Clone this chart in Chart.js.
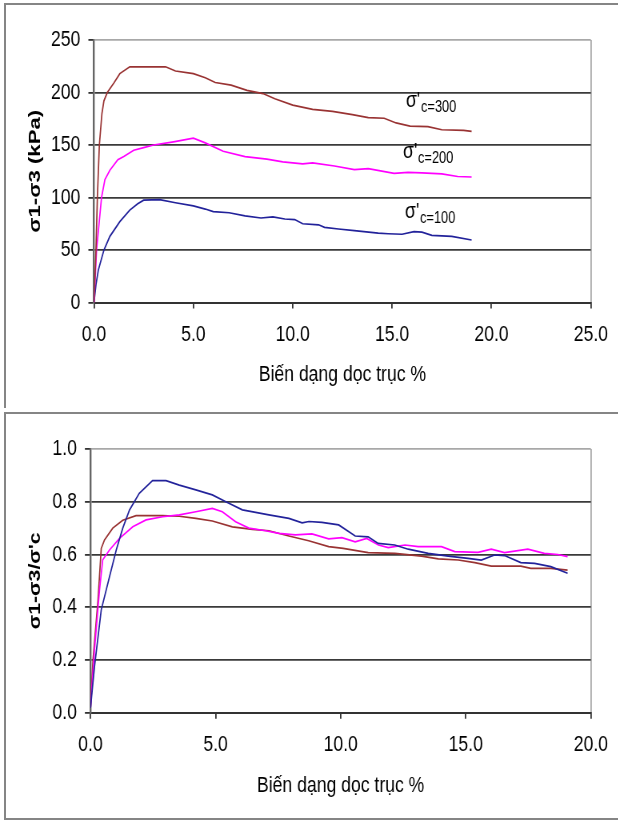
<!DOCTYPE html>
<html><head><meta charset="utf-8">
<script src="https://cdn.jsdelivr.net/npm/chart.js@4.4.0/dist/chart.umd.min.js"></script>
<style>
html,body{margin:0;padding:0;background:#fff;}
body{width:618px;height:821px;position:relative;overflow:hidden;}
.frame{position:absolute;border:2px solid #858585;box-sizing:border-box;}
#f1{left:4px;top:3px;width:700px;height:405px;border-bottom:none;}
#f2{left:4px;top:412px;width:700px;height:408px;}
.wrap{position:absolute;left:0;transform:scaleX(0.8);transform-origin:0 0;}
#w1{top:0;}
#w2{top:410px;}
canvas{display:block;}
</style></head>
<body>
<div class="frame" id="f1"></div>
<div class="frame" id="f2"></div>
<div class="wrap" id="w1"><canvas id="c1" width="773" height="408"></canvas></div>
<div class="wrap" id="w2"><canvas id="c2" width="773" height="411"></canvas></div>
<script>
// ---------- Top chart: deviator stress (kPa) vs axial strain (%) ----------
const topStrain300 = [0,0.1,0.17,0.27,0.4,0.5,0.67,1.0,1.3,1.8,2.5,3.6,4.1,5.0,5.6,6.1,6.9,7.7,8.5,9.1,10.0,11.0,12.0,13.0,13.8,14.6,15.2,15.9,16.8,17.5,18.6,19.0];
const topStress300 = [0,50,100,150,180,192,200,209,218,224.5,224.5,224.5,220.5,218,214,209.5,207,202,199,194,188,184,182,179,176,175.5,171,168,167.5,164.5,164,163];
const topStrain200 = [0,0.13,0.38,0.55,0.8,1.2,1.5,2.0,2.5,3.0,4.0,5.0,5.6,6.5,7.6,8.7,9.5,10.5,11.0,12.1,13.1,13.8,15.1,15.8,16.5,17.5,18.3,19.0];
const topStress200 = [0,50,100,117,126,136,139,145,147.5,150,153,156.5,152,144,139,136.5,134,132,133,130,126.5,127.5,123,124,123.5,122.5,120,119.5];
const topStrain100 = [0,0.1,0.22,0.5,0.8,1.3,1.8,2.2,2.5,3.3,4.1,5.0,5.6,6.0,6.8,7.6,8.4,9.0,9.6,10.1,10.5,11.3,11.6,12.3,13.1,14.3,14.8,15.5,16.1,16.5,17.0,18.0,19.0];
const topStress100 = [0,17,31,50,63,77,88,94,97.5,98,95,92,89,86.5,85.5,82.5,80.5,81.5,79.5,79,75,74,71.5,70,68.5,66,65.5,65,67.5,67,64,63,59.5];
const topXTicks = [0,5,10,15,20,25];
const topYTicks = [0,50,100,150,200,250];
// curve annotations (data units)
const topLabelText = ["300","200","100"];
const topLabelX = [15.7,15.55,15.65];
const topLabelY = [186.2,137.6,80.5];

// ---------- Bottom chart: normalised stress vs axial strain (%) ----------
const botStrain100 = [0,0.16,0.43,0.76,1.03,1.29,1.56,1.95,2.48,3.02,3.55,4.21,4.87,5.41,6.07,6.6,7.13,7.93,8.46,8.73,9.25,9.92,10.58,11.1,11.5,12.16,12.7,13.5,14.3,15.09,15.62,16.15,16.55,17.2,17.75,18.4,19.07];
const botRatio100  = [0.018,0.175,0.39,0.516,0.617,0.70,0.769,0.832,0.88,0.88,0.863,0.845,0.826,0.80,0.769,0.76,0.75,0.737,0.72,0.725,0.722,0.712,0.67,0.667,0.642,0.636,0.62,0.604,0.594,0.585,0.579,0.598,0.596,0.569,0.566,0.554,0.529];
const botStrain300 = [0,0.1,0.3,0.43,0.56,0.89,1.29,1.82,2.88,3.55,4.21,4.87,5.67,6.47,7.13,7.93,8.72,9.52,10.1,11.1,12.17,13.23,13.9,14.7,15.36,16.02,17.2,17.6,18.4,19.07];
const botRatio300  = [0.018,0.2,0.427,0.623,0.655,0.70,0.73,0.747,0.747,0.745,0.737,0.727,0.705,0.695,0.69,0.67,0.652,0.63,0.623,0.607,0.604,0.594,0.583,0.579,0.569,0.556,0.556,0.547,0.547,0.541];
const botStrain200 = [0,0.16,0.36,0.49,0.76,1.16,1.69,2.22,2.88,3.55,4.21,4.87,5.27,5.8,6.33,7.0,7.53,8.19,8.85,9.52,10.05,10.58,11.04,11.51,11.9,12.57,13.1,14.03,14.56,15.49,16.02,16.55,17.48,18.14,18.68,19.07];
const botRatio200  = [0.018,0.238,0.465,0.58,0.617,0.661,0.705,0.731,0.743,0.75,0.762,0.775,0.762,0.724,0.70,0.69,0.68,0.674,0.678,0.659,0.664,0.648,0.661,0.636,0.626,0.636,0.63,0.63,0.611,0.608,0.62,0.607,0.62,0.604,0.60,0.592];
const botXTicks = [0,5,10,15,20];
const botYTicks = [0,0.2,0.4,0.6,0.8,1.0];

const xTitle = "Biến dạng dọc trục %";
const yTitleTop = "σ1-σ3 (kPa)";
const yTitleBot = "σ1-σ3/σ'c";

const BROWN = '#993333', MAGENTA = '#ff00ff', BLUE = '#22229a';
const FONT = "'Liberation Sans',Arial,sans-serif";
const K = 0.8;          // horizontal compression applied to the canvas (CSS)
const CW = 773;         // internal canvas width

function pts(xs, ys){ return xs.map((x,i)=>({x:x, y:ys[i]})); }
function ds(xs, ys, color){
  return {data: pts(xs, ys), borderColor: color, borderWidth: 1.7, pointRadius: 0, showLine: true, tension: 0, fill: false};
}

const titlesPlugin = {
  id: 'titles',
  afterDraw(chart, args, o){
    const ctx = chart.ctx, a = chart.chartArea;
    ctx.save();
    ctx.fillStyle = '#000';
    ctx.font = o.xFont; ctx.textAlign = 'center'; ctx.textBaseline = 'alphabetic';
    ctx.fillText(o.xText, (a.left + a.right)/2, o.xBase);
    ctx.translate(o.yX / K, (a.top + a.bottom)/2);
    ctx.rotate(-Math.PI/2);
    ctx.font = o.yFont;
    const w = ctx.measureText(o.yText).width;
    ctx.scale(o.yLen / w, 1);
    ctx.textAlign = 'center'; ctx.textBaseline = 'middle';
    ctx.fillText(o.yText, 0, 0);
    ctx.restore();
    if (o.labels) {
      const xs = chart.scales.x, ys = chart.scales.y;
      ctx.save();
      ctx.fillStyle = '#000'; ctx.textAlign = 'left'; ctx.textBaseline = 'alphabetic';
      o.labels.text.forEach((t,i)=>{
        const px = xs.getPixelForValue(o.labels.x[i]);
        const py = ys.getPixelForValue(o.labels.y[i]);
        ctx.font = "22px " + FONT;
        ctx.fillText("σ'", px, py);
        const w1 = ctx.measureText("σ'").width;
        ctx.font = "16px " + FONT;
        ctx.fillText("c=" + t, px + w1 + 1, py + 5);
      });
      ctx.restore();
    }
  }
};

function makeChart(id, datasets, xmax, ymax, xticks, yticks, area, canvasH, titleOpts, decimals){
  const tickFont = {family: FONT, size: 22};
  return new Chart(document.getElementById(id), {
    type: 'scatter',
    data: {datasets: datasets},
    options: {
      responsive: false, animation: false, devicePixelRatio: 1,
      layout: {padding: {left: 0, top: area.top, right: CW - area.right / K, bottom: 0}},
      plugins: {legend: {display: false}, tooltip: {enabled: false}, titles: titleOpts},
      scales: {
        x: {
          type: 'linear', min: 0, max: xmax,
          afterBuildTicks: s => { s.ticks = xticks.map(v=>({value:v})); },
          ticks: {callback: v => Number(v).toFixed(1), font: tickFont, color: '#000', padding: 13, maxRotation: 0, autoSkip: false},
          grid: {drawOnChartArea: true, color: c => (c.tick && c.tick.value === xmax) ? '#a8a8a8' : 'rgba(0,0,0,0)', tickColor: '#333', tickLength: 6, lineWidth: 1.8},
          border: {color: '#333', width: 2},
          afterFit: s => { s.height = canvasH - area.bottom; }
        },
        y: {
          min: 0, max: ymax,
          afterBuildTicks: s => { s.ticks = yticks.map(v=>({value:v})); },
          ticks: {callback: v => decimals ? Number(v).toFixed(decimals) : String(v), font: tickFont, color: '#000', padding: 10, autoSkip: false},
          grid: {color: c => (c.tick && c.tick.value === ymax) ? '#a8a8a8' : '#3a3a3a', tickColor: '#333', tickLength: 7, lineWidth: 1.8},
          border: {color: '#666', width: 2.4},
          afterFit: s => { s.width = area.left / K; }
        }
      }
    },
    plugins: [titlesPlugin]
  });
}

makeChart('c1',
  [ds(topStrain300, topStress300, BROWN), ds(topStrain200, topStress200, MAGENTA), ds(topStrain100, topStress100, BLUE)],
  25, 250, topXTicks, topYTicks,
  {left: 94, right: 593.5, top: 40, bottom: 302.5}, 408,
  {xText: xTitle, xFont: "22px " + FONT, xBase: 381, yText: yTitleTop, yFont: "bold 21px " + FONT, yX: 35, yLen: 123,
   labels: {text: topLabelText, x: topLabelX, y: topLabelY}}, 0);

makeChart('c2',
  [ds(botStrain100, botRatio100, BLUE), ds(botStrain200, botRatio200, MAGENTA), ds(botStrain300, botRatio300, BROWN)],
  20, 1.0, botXTicks, botYTicks,
  {left: 90.5, right: 593, top: 39, bottom: 302.7}, 411,
  {xText: xTitle, xFont: "22px " + FONT, xBase: 382, yText: yTitleBot, yFont: "bold 21px " + FONT, yX: 35, yLen: 97}, 1);
</script>
</body></html>
